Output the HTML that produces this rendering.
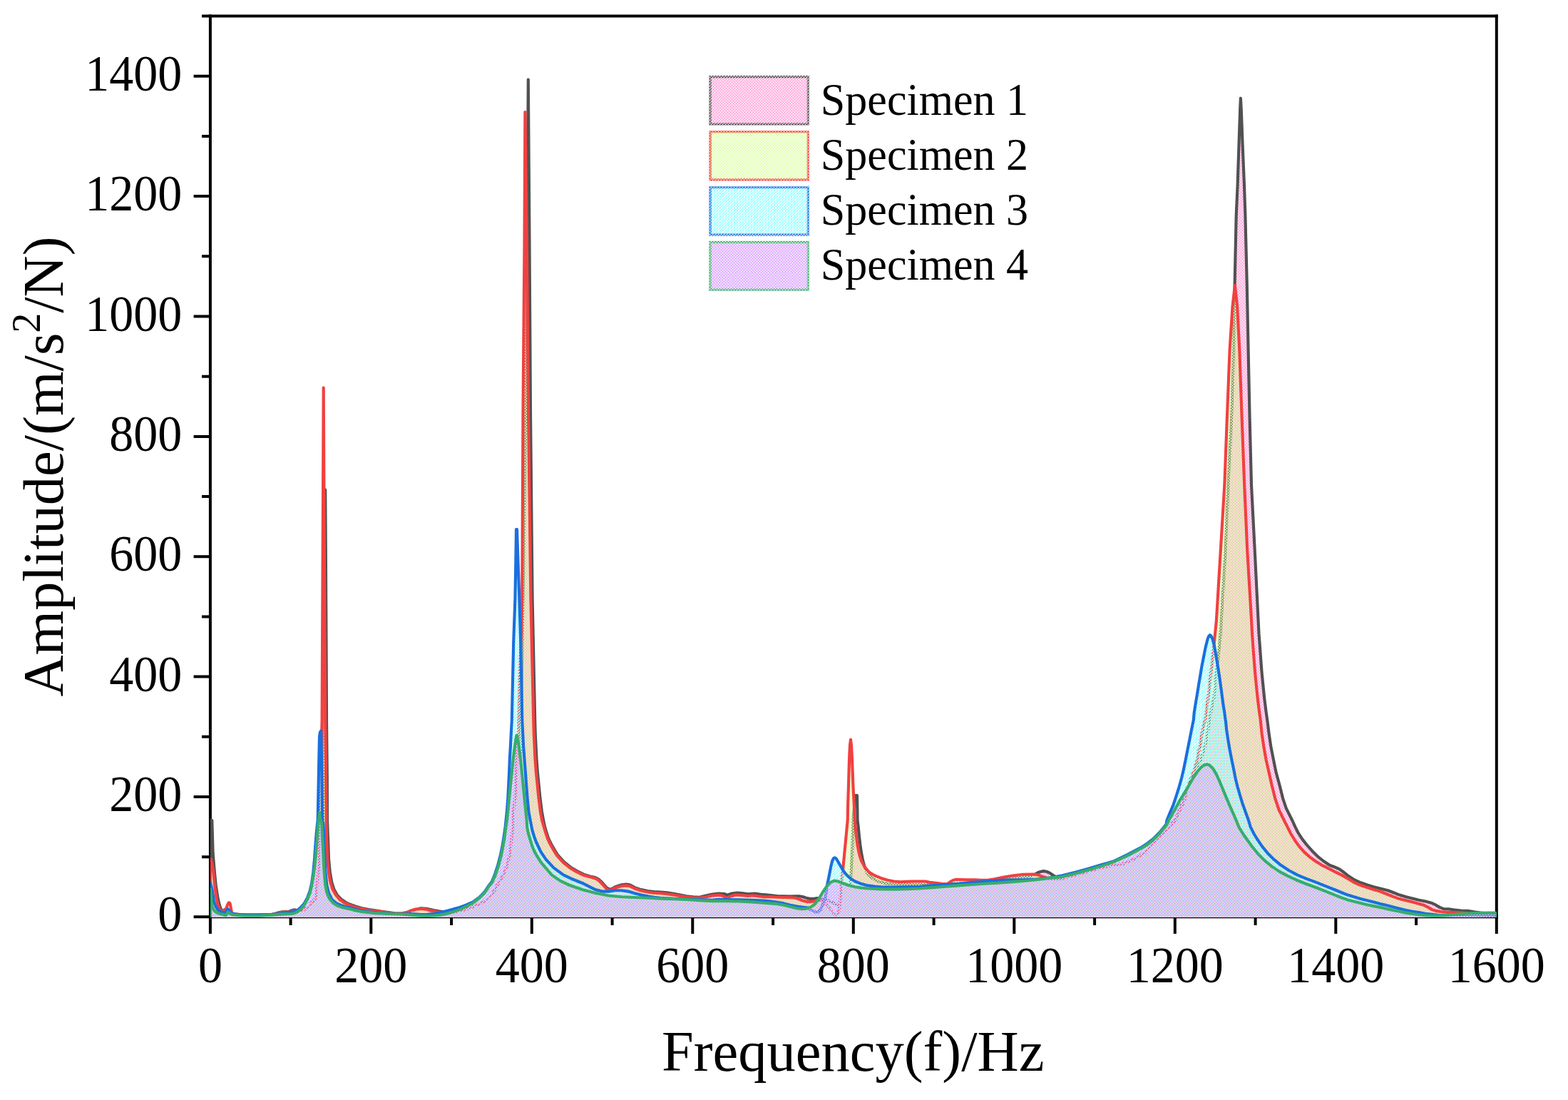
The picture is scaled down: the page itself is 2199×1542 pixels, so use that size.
<!DOCTYPE html>
<html lang="en"><head><meta charset="utf-8"><title>Frequency response of specimens</title>
<style>html,body{margin:0;padding:0;background:#fff;}body{width:2199px;height:1542px;overflow:hidden;}svg{display:block;}text{font-family:"Liberation Serif","Times New Roman",serif;fill:#000;}</style>
</head><body>
<svg width="2199" height="1542" viewBox="0 0 2199 1542">
<defs>
<pattern id="f-gray" width="4" height="4" patternUnits="userSpaceOnUse"><path d="M0 0h1v1h-1zM2 0h1v1h-1zM1 1h1v1h-1zM3 1h1v1h-1zM0 2h1v1h-1zM2 2h1v1h-1zM1 3h1v1h-1zM3 3h1v1h-1zM0 1h1v1h-1zM2 3h1v1h-1z" fill="#FFA8DC" shape-rendering="crispEdges"/></pattern>
<pattern id="s-gray" width="4" height="4" patternUnits="userSpaceOnUse"><path d="M0 0h1v1h-1zM2 0h1v1h-1zM1 1h1v1h-1zM3 1h1v1h-1zM0 2h1v1h-1zM2 2h1v1h-1zM1 3h1v1h-1zM3 3h1v1h-1zM1 0h1v1h-1zM3 2h1v1h-1z" fill="#515151" shape-rendering="crispEdges"/></pattern>
<pattern id="f-red" width="4" height="4" patternUnits="userSpaceOnUse"><path d="M1 0h1v1h-1zM3 0h1v1h-1zM0 1h1v1h-1zM2 1h1v1h-1zM1 2h1v1h-1zM3 2h1v1h-1zM0 3h1v1h-1zM2 3h1v1h-1zM0 0h1v1h-1zM2 2h1v1h-1z" fill="#E0FFB0" shape-rendering="crispEdges"/></pattern>
<pattern id="s-red" width="4" height="4" patternUnits="userSpaceOnUse"><path d="M0 0h1v1h-1zM2 0h1v1h-1zM1 1h1v1h-1zM3 1h1v1h-1zM0 2h1v1h-1zM2 2h1v1h-1zM1 3h1v1h-1zM3 3h1v1h-1zM1 0h1v1h-1zM3 2h1v1h-1z" fill="#F14040" shape-rendering="crispEdges"/></pattern>
<pattern id="f-blue" width="4" height="4" patternUnits="userSpaceOnUse"><path d="M0 0h1v1h-1zM1 0h1v1h-1zM2 0h1v1h-1zM0 1h1v1h-1zM3 1h1v1h-1zM1 2h1v1h-1zM2 2h1v1h-1zM3 2h1v1h-1zM1 3h1v1h-1zM2 3h1v1h-1z" fill="#A8FFFF" shape-rendering="crispEdges"/></pattern>
<pattern id="s-blue" width="4" height="4" patternUnits="userSpaceOnUse"><path d="M0 0h1v1h-1zM2 0h1v1h-1zM1 1h1v1h-1zM3 1h1v1h-1zM0 2h1v1h-1zM2 2h1v1h-1zM1 3h1v1h-1zM3 3h1v1h-1zM1 0h1v1h-1zM3 2h1v1h-1z" fill="#1A6FDF" shape-rendering="crispEdges"/></pattern>
<pattern id="f-green" width="4" height="4" patternUnits="userSpaceOnUse"><path d="M0 0h1v1h-1zM2 0h1v1h-1zM1 1h1v1h-1zM3 1h1v1h-1zM0 2h1v1h-1zM2 2h1v1h-1zM1 3h1v1h-1zM3 3h1v1h-1zM1 0h1v1h-1zM3 2h1v1h-1z" fill="#DCA8FF" shape-rendering="crispEdges"/></pattern>
<pattern id="s-green" width="4" height="4" patternUnits="userSpaceOnUse"><path d="M0 0h1v1h-1zM2 0h1v1h-1zM1 1h1v1h-1zM3 1h1v1h-1zM0 2h1v1h-1zM2 2h1v1h-1zM1 3h1v1h-1zM3 3h1v1h-1zM1 0h1v1h-1zM3 2h1v1h-1z" fill="#37AD6B" shape-rendering="crispEdges"/></pattern>
<clipPath id="plot"><rect x="295.00" y="22.60" width="1803.90" height="1263.30"/></clipPath>
</defs>
<rect width="2199" height="1542" fill="#fff"/>
<g stroke="#000" stroke-width="4" fill="none" stroke-linecap="butt">
<path d="M292.9 22.6 H2100.8"/>
<path d="M292.9 1285.3 H2100.8"/>
<path d="M294.9 20.6 V1287.3"/>
<path d="M2098.8 20.6 V1287.3"/>
<path d="M294.9 1285.3 v23.7 M407.6 1285.3 v11.7 M520.3 1285.3 v23.7 M633.1 1285.3 v11.7 M745.8 1285.3 v23.7 M858.6 1285.3 v11.7 M971.3 1285.3 v23.7 M1084.1 1285.3 v11.7 M1196.8 1285.3 v23.7 M1309.6 1285.3 v11.7 M1422.3 1285.3 v23.7 M1535.1 1285.3 v11.7 M1647.8 1285.3 v23.7 M1760.6 1285.3 v11.7 M1873.3 1285.3 v23.7 M1986.1 1285.3 v11.7 M2098.8 1285.3 v23.7 M294.9 1285.3 h-23.3 M294.9 1201.2 h-11.9 M294.9 1117.0 h-23.3 M294.9 1032.8 h-11.9 M294.9 948.6 h-23.3 M294.9 864.4 h-11.9 M294.9 780.2 h-23.3 M294.9 696.1 h-11.9 M294.9 611.9 h-23.3 M294.9 527.7 h-11.9 M294.9 443.5 h-23.3 M294.9 359.3 h-11.9 M294.9 275.1 h-23.3 M294.9 191.0 h-11.9 M294.9 106.8 h-23.3 M294.9 22.6 h-11.9"/>
</g>
<g clip-path="url(#plot)">
<path d="M294.9 1289.3 L295.0 1149.5 L297.3 1150.0 L298.6 1195.5 L300.9 1222.8 L302.7 1241.0 L305.5 1259.1 L307.7 1268.2 L309.1 1272.8 L311.8 1277.3 L317.3 1279.1 L326.4 1281.0 L335.5 1281.9 L344.6 1282.3 L362.8 1282.3 L381.0 1281.9 L385.5 1281.0 L390.0 1279.6 L394.6 1278.4 L403.7 1278.1 L408.2 1276.6 L412.8 1275.3 L416.4 1276.0 L421.9 1276.0 L431.0 1272.8 L440.1 1266.4 L446.4 1259.1 L450.1 1241.0 L452.8 1195.5 L454.0 1100.0 L455.0 900.0 L455.7 770.0 L456.2 686.5 L456.8 770.0 L457.5 900.0 L458.0 1010.0 L458.8 1090.0 L459.0 1150.0 L460.1 1177.3 L461.0 1204.6 L462.8 1222.8 L465.1 1236.4 L468.3 1246.4 L472.8 1254.6 L478.3 1260.5 L484.6 1264.8 L490.0 1267.5 L499.1 1270.8 L508.2 1273.2 L517.3 1275.1 L526.4 1276.4 L535.5 1277.8 L544.6 1279.1 L553.7 1280.2 L562.8 1280.5 L571.9 1279.1 L581.0 1276.0 L590.0 1273.2 L599.1 1273.9 L608.2 1276.0 L615.5 1277.3 L621.9 1278.2 L631.0 1278.7 L644.6 1277.3 L656.4 1274.6 L662.8 1272.3 L671.9 1269.1 L681.0 1264.8 L700.0 1262.0 L712.0 1240.0 L720.0 1200.0 L726.0 1150.0 L729.0 1090.0 L730.5 1030.0 L733.5 840.0 L737.2 580.0 L739.3 340.0 L740.8 111.5 L742.5 340.0 L744.0 580.0 L746.6 840.0 L750.2 1010.0 L750.7 1028.2 L751.6 1046.4 L752.5 1064.6 L753.9 1082.8 L755.7 1101.0 L757.5 1119.1 L759.8 1137.3 L762.1 1150.0 L763.9 1158.4 L766.6 1167.5 L769.3 1175.6 L772.9 1182.9 L777.5 1191.1 L782.0 1198.4 L791.1 1208.4 L800.2 1215.7 L809.3 1221.1 L818.4 1225.7 L827.5 1228.4 L834.6 1230.0 L839.2 1232.3 L844.6 1237.3 L850.1 1243.7 L854.6 1246.9 L859.2 1245.5 L862.8 1243.2 L871.9 1240.2 L878.3 1239.6 L883.7 1240.5 L890.0 1244.1 L899.1 1247.1 L908.2 1249.1 L917.3 1250.0 L926.4 1250.5 L935.5 1251.4 L944.6 1252.8 L953.7 1254.6 L962.8 1256.4 L971.9 1257.3 L981.0 1257.8 L990.0 1255.5 L999.1 1253.5 L1008.2 1252.5 L1015.5 1253.0 L1020.1 1254.8 L1026.4 1252.5 L1033.7 1251.6 L1040.1 1252.0 L1049.2 1253.4 L1058.3 1252.5 L1067.4 1253.7 L1076.4 1254.6 L1090.0 1256.0 L1099.1 1256.4 L1108.2 1256.6 L1115.5 1256.4 L1120.9 1256.2 L1126.4 1257.3 L1131.8 1259.1 L1137.3 1260.1 L1142.8 1259.6 L1146.4 1259.1 L1153.7 1260.5 L1162.8 1262.8 L1170.0 1266.4 L1173.7 1267.8 L1181.0 1266.4 L1186.4 1259.1 L1190.0 1250.0 L1191.9 1241.0 L1192.8 1236.4 L1193.7 1222.8 L1194.6 1204.6 L1195.5 1186.4 L1196.0 1168.2 L1196.4 1150.0 L1198.2 1130.0 L1199.6 1115.0 L1202.0 1115.0 L1202.3 1130.0 L1202.6 1150.0 L1203.7 1159.1 L1205.0 1172.7 L1206.6 1186.4 L1208.2 1196.4 L1210.1 1206.4 L1212.8 1215.5 L1215.5 1222.8 L1221.9 1230.0 L1231.0 1235.5 L1244.6 1238.7 L1262.8 1240.0 L1290.0 1239.6 L1317.3 1240.0 L1344.6 1238.2 L1362.8 1237.3 L1399.1 1233.7 L1426.4 1230.5 L1444.6 1228.2 L1451.9 1225.5 L1455.5 1223.2 L1460.1 1221.7 L1463.7 1221.1 L1468.3 1222.0 L1472.8 1224.1 L1477.4 1227.3 L1481.0 1229.6 L1485.5 1231.9 L1490.0 1231.9 L1508.2 1226.9 L1526.4 1221.9 L1544.6 1216.8 L1562.8 1213.5 L1574.6 1211.7 L1581.0 1209.3 L1590.0 1205.7 L1597.3 1201.4 L1605.5 1196.6 L1611.9 1189.6 L1620.1 1180.5 L1626.4 1175.0 L1632.8 1168.6 L1640.1 1160.5 L1648.0 1150.0 L1665.0 1110.0 L1677.3 1079.0 L1683.7 1066.0 L1690.0 1046.0 L1693.5 1028.0 L1695.8 1010.0 L1699.1 992.8 L1702.3 979.1 L1703.7 965.5 L1705.0 951.9 L1706.4 938.2 L1708.2 924.6 L1709.6 910.9 L1710.9 897.3 L1711.9 883.6 L1712.8 870.0 L1713.2 862.0 L1718.6 771.0 L1722.4 680.0 L1727.3 582.0 L1730.1 491.0 L1731.6 400.0 L1733.7 302.0 L1735.6 260.0 L1737.6 200.0 L1739.2 152.0 L1739.9 137.7 L1740.7 152.0 L1742.5 200.0 L1745.0 260.0 L1746.4 302.0 L1748.8 400.0 L1750.6 491.0 L1752.5 582.0 L1755.0 680.0 L1759.7 771.0 L1764.6 870.0 L1765.5 888.2 L1766.9 906.4 L1768.2 924.6 L1769.6 942.8 L1771.4 961.0 L1773.2 979.1 L1775.5 997.3 L1777.3 1010.0 L1779.6 1028.2 L1782.3 1046.4 L1785.9 1064.6 L1789.6 1082.8 L1794.6 1101.0 L1799.1 1119.1 L1803.7 1132.8 L1808.2 1141.9 L1812.3 1150.0 L1816.4 1159.1 L1821.0 1168.2 L1826.4 1176.4 L1832.8 1184.6 L1840.1 1192.7 L1848.3 1200.9 L1856.4 1207.3 L1864.6 1212.8 L1871.9 1215.5 L1877.4 1217.8 L1882.8 1221.4 L1890.0 1227.1 L1899.1 1233.2 L1908.2 1237.3 L1917.3 1240.5 L1926.4 1243.2 L1935.5 1245.5 L1946.4 1248.2 L1953.7 1251.0 L1962.8 1254.6 L1971.9 1257.3 L1981.0 1259.6 L1990.0 1261.7 L1999.1 1263.5 L2008.2 1266.0 L2013.7 1268.7 L2019.1 1271.9 L2024.6 1274.1 L2031.9 1274.4 L2040.1 1275.5 L2049.2 1276.6 L2058.3 1276.9 L2067.4 1278.4 L2076.4 1279.6 L2090.0 1281.0 L2098.8 1281.5 L2098.9 1281.5 L2098.9 1289.3Z" fill="url(#f-gray)" stroke="none"/>
<path d="M294.9 1289.3 L295.0 1149.5 L297.3 1150.0 L298.6 1195.5 L300.9 1222.8 L302.7 1241.0 L305.5 1259.1 L307.7 1268.2 L309.1 1272.8 L311.8 1277.3 L317.3 1279.1 L326.4 1281.0 L335.5 1281.9 L344.6 1282.3 L362.8 1282.3 L381.0 1281.9 L385.5 1281.0 L390.0 1279.6 L394.6 1278.4 L403.7 1278.1 L408.2 1276.6 L412.8 1275.3 L416.4 1276.0 L421.9 1276.0 L431.0 1272.8 L440.1 1266.4 L446.4 1259.1 L450.1 1241.0 L452.8 1195.5 L454.0 1100.0 L455.0 900.0 L455.7 770.0 L456.2 686.5 L456.8 770.0 L457.5 900.0 L458.0 1010.0 L458.8 1090.0 L459.0 1150.0 L460.1 1177.3 L461.0 1204.6 L462.8 1222.8 L465.1 1236.4 L468.3 1246.4 L472.8 1254.6 L478.3 1260.5 L484.6 1264.8 L490.0 1267.5 L499.1 1270.8 L508.2 1273.2 L517.3 1275.1 L526.4 1276.4 L535.5 1277.8 L544.6 1279.1 L553.7 1280.2 L562.8 1280.5 L571.9 1279.1 L581.0 1276.0 L590.0 1273.2 L599.1 1273.9 L608.2 1276.0 L615.5 1277.3 L621.9 1278.2 L631.0 1278.7 L644.6 1277.3 L656.4 1274.6 L662.8 1272.3 L671.9 1269.1 L681.0 1264.8 L700.0 1262.0 L712.0 1240.0 L720.0 1200.0 L726.0 1150.0 L729.0 1090.0 L730.5 1030.0 L733.5 840.0 L737.2 580.0 L739.3 340.0 L740.8 111.5 L742.5 340.0 L744.0 580.0 L746.6 840.0 L750.2 1010.0 L750.7 1028.2 L751.6 1046.4 L752.5 1064.6 L753.9 1082.8 L755.7 1101.0 L757.5 1119.1 L759.8 1137.3 L762.1 1150.0 L763.9 1158.4 L766.6 1167.5 L769.3 1175.6 L772.9 1182.9 L777.5 1191.1 L782.0 1198.4 L791.1 1208.4 L800.2 1215.7 L809.3 1221.1 L818.4 1225.7 L827.5 1228.4 L834.6 1230.0 L839.2 1232.3 L844.6 1237.3 L850.1 1243.7 L854.6 1246.9 L859.2 1245.5 L862.8 1243.2 L871.9 1240.2 L878.3 1239.6 L883.7 1240.5 L890.0 1244.1 L899.1 1247.1 L908.2 1249.1 L917.3 1250.0 L926.4 1250.5 L935.5 1251.4 L944.6 1252.8 L953.7 1254.6 L962.8 1256.4 L971.9 1257.3 L981.0 1257.8 L990.0 1255.5 L999.1 1253.5 L1008.2 1252.5 L1015.5 1253.0 L1020.1 1254.8 L1026.4 1252.5 L1033.7 1251.6 L1040.1 1252.0 L1049.2 1253.4 L1058.3 1252.5 L1067.4 1253.7 L1076.4 1254.6 L1090.0 1256.0 L1099.1 1256.4 L1108.2 1256.6 L1115.5 1256.4 L1120.9 1256.2 L1126.4 1257.3 L1131.8 1259.1 L1137.3 1260.1 L1142.8 1259.6 L1146.4 1259.1 L1153.7 1260.5 L1162.8 1262.8 L1170.0 1266.4 L1173.7 1267.8 L1181.0 1266.4 L1186.4 1259.1 L1190.0 1250.0 L1191.9 1241.0 L1192.8 1236.4 L1193.7 1222.8 L1194.6 1204.6 L1195.5 1186.4 L1196.0 1168.2 L1196.4 1150.0 L1198.2 1130.0 L1199.6 1115.0 L1202.0 1115.0 L1202.3 1130.0 L1202.6 1150.0 L1203.7 1159.1 L1205.0 1172.7 L1206.6 1186.4 L1208.2 1196.4 L1210.1 1206.4 L1212.8 1215.5 L1215.5 1222.8 L1221.9 1230.0 L1231.0 1235.5 L1244.6 1238.7 L1262.8 1240.0 L1290.0 1239.6 L1317.3 1240.0 L1344.6 1238.2 L1362.8 1237.3 L1399.1 1233.7 L1426.4 1230.5 L1444.6 1228.2 L1451.9 1225.5 L1455.5 1223.2 L1460.1 1221.7 L1463.7 1221.1 L1468.3 1222.0 L1472.8 1224.1 L1477.4 1227.3 L1481.0 1229.6 L1485.5 1231.9 L1490.0 1231.9 L1508.2 1226.9 L1526.4 1221.9 L1544.6 1216.8 L1562.8 1213.5 L1574.6 1211.7 L1581.0 1209.3 L1590.0 1205.7 L1597.3 1201.4 L1605.5 1196.6 L1611.9 1189.6 L1620.1 1180.5 L1626.4 1175.0 L1632.8 1168.6 L1640.1 1160.5 L1648.0 1150.0 L1665.0 1110.0 L1677.3 1079.0 L1683.7 1066.0 L1690.0 1046.0 L1693.5 1028.0 L1695.8 1010.0 L1699.1 992.8 L1702.3 979.1 L1703.7 965.5 L1705.0 951.9 L1706.4 938.2 L1708.2 924.6 L1709.6 910.9 L1710.9 897.3 L1711.9 883.6 L1712.8 870.0 L1713.2 862.0 L1718.6 771.0 L1722.4 680.0 L1727.3 582.0 L1730.1 491.0 L1731.6 400.0 L1733.7 302.0 L1735.6 260.0 L1737.6 200.0 L1739.2 152.0 L1739.9 137.7 L1740.7 152.0 L1742.5 200.0 L1745.0 260.0 L1746.4 302.0 L1748.8 400.0 L1750.6 491.0 L1752.5 582.0 L1755.0 680.0 L1759.7 771.0 L1764.6 870.0 L1765.5 888.2 L1766.9 906.4 L1768.2 924.6 L1769.6 942.8 L1771.4 961.0 L1773.2 979.1 L1775.5 997.3 L1777.3 1010.0 L1779.6 1028.2 L1782.3 1046.4 L1785.9 1064.6 L1789.6 1082.8 L1794.6 1101.0 L1799.1 1119.1 L1803.7 1132.8 L1808.2 1141.9 L1812.3 1150.0 L1816.4 1159.1 L1821.0 1168.2 L1826.4 1176.4 L1832.8 1184.6 L1840.1 1192.7 L1848.3 1200.9 L1856.4 1207.3 L1864.6 1212.8 L1871.9 1215.5 L1877.4 1217.8 L1882.8 1221.4 L1890.0 1227.1 L1899.1 1233.2 L1908.2 1237.3 L1917.3 1240.5 L1926.4 1243.2 L1935.5 1245.5 L1946.4 1248.2 L1953.7 1251.0 L1962.8 1254.6 L1971.9 1257.3 L1981.0 1259.6 L1990.0 1261.7 L1999.1 1263.5 L2008.2 1266.0 L2013.7 1268.7 L2019.1 1271.9 L2024.6 1274.1 L2031.9 1274.4 L2040.1 1275.5 L2049.2 1276.6 L2058.3 1276.9 L2067.4 1278.4 L2076.4 1279.6 L2090.0 1281.0 L2098.8 1281.5 L2098.9 1281.5 L2098.9 1289.3" fill="none" stroke="#515151" stroke-width="4.15" stroke-linejoin="round" stroke-linecap="butt"/>
<path d="M294.9 1289.3 L295.0 1204.0 L297.1 1209.1 L299.4 1222.8 L301.2 1241.0 L303.5 1259.1 L305.7 1268.2 L308.2 1275.1 L310.9 1276.9 L314.6 1275.5 L317.3 1273.7 L319.1 1268.2 L320.5 1265.7 L321.7 1265.3 L322.7 1266.9 L323.8 1272.8 L324.7 1278.2 L326.4 1280.8 L330.9 1281.7 L335.5 1282.1 L344.6 1283.0 L353.7 1283.0 L360.9 1282.3 L367.3 1282.6 L381.0 1282.3 L390.0 1280.5 L394.6 1279.1 L403.7 1278.4 L408.2 1277.3 L412.8 1276.6 L417.3 1276.9 L421.9 1276.4 L428.2 1274.6 L433.7 1270.1 L438.2 1263.7 L441.9 1261.9 L443.7 1250.0 L445.5 1231.9 L446.9 1213.7 L447.8 1195.5 L448.4 1177.3 L448.7 1159.1 L449.0 1130.0 L450.2 1070.0 L451.6 1010.0 L452.7 770.0 L453.7 543.5 L454.8 770.0 L456.2 1010.0 L457.2 1090.0 L457.9 1150.0 L458.3 1177.3 L459.2 1204.6 L461.0 1222.8 L463.3 1236.4 L466.4 1246.4 L471.0 1254.6 L476.4 1261.0 L482.8 1265.5 L490.0 1268.7 L499.1 1271.9 L508.2 1274.1 L517.3 1276.0 L526.4 1276.9 L535.5 1278.2 L544.6 1279.6 L553.7 1280.5 L562.8 1280.5 L570.0 1279.1 L576.4 1276.4 L582.8 1274.6 L590.0 1273.9 L597.3 1274.6 L603.7 1276.4 L610.1 1277.8 L617.3 1278.7 L626.4 1279.1 L640.1 1278.2 L656.4 1273.7 L662.8 1271.0 L671.9 1267.3 L679.2 1263.7 L685.5 1259.1 L690.9 1252.8 L697.3 1241.0 L705.5 1227.3 L710.9 1213.7 L715.5 1195.5 L717.3 1177.3 L719.1 1159.1 L719.6 1150.0 L720.0 1137.3 L722.3 1119.1 L723.2 1101.0 L724.1 1082.8 L724.6 1064.6 L725.5 1046.4 L726.9 1028.2 L727.3 1010.0 L732.2 840.0 L733.5 580.0 L735.5 340.0 L736.4 157.0 L738.8 340.0 L741.0 580.0 L744.4 840.0 L748.2 1010.0 L748.7 1028.2 L749.6 1046.4 L750.5 1064.6 L751.9 1082.8 L753.7 1101.0 L755.5 1119.1 L757.8 1137.3 L760.1 1150.0 L762.8 1159.1 L765.5 1168.2 L768.2 1176.4 L771.9 1183.7 L776.4 1191.8 L781.0 1199.1 L790.0 1209.1 L799.1 1216.4 L808.2 1221.9 L817.3 1226.4 L826.4 1229.1 L833.7 1230.9 L839.2 1233.7 L844.6 1239.1 L850.1 1245.5 L853.7 1248.2 L858.3 1246.9 L862.8 1244.6 L871.9 1241.9 L878.3 1241.4 L883.7 1242.3 L890.0 1245.5 L899.1 1248.4 L908.2 1250.5 L917.3 1251.7 L926.4 1252.3 L935.5 1253.2 L944.6 1254.4 L953.7 1256.0 L962.8 1257.3 L971.9 1258.2 L981.0 1258.7 L990.0 1257.3 L999.1 1255.5 L1008.2 1254.6 L1012.8 1255.5 L1019.1 1258.7 L1024.6 1256.4 L1031.0 1254.4 L1040.1 1255.0 L1049.2 1256.0 L1055.5 1255.3 L1062.8 1256.2 L1071.9 1257.1 L1081.0 1257.3 L1090.0 1257.8 L1099.1 1258.0 L1108.2 1258.2 L1115.5 1258.7 L1120.9 1260.5 L1126.4 1262.8 L1131.8 1264.1 L1137.3 1264.1 L1142.8 1263.2 L1146.4 1261.9 L1153.7 1261.9 L1159.1 1268.2 L1164.6 1274.6 L1170.0 1281.9 L1173.7 1282.8 L1176.4 1277.3 L1177.8 1268.2 L1178.7 1254.6 L1188.7 1150.0 L1189.1 1128.2 L1190.0 1101.0 L1191.0 1064.6 L1192.0 1044.6 L1193.0 1036.8 L1194.0 1044.6 L1195.0 1064.6 L1196.4 1101.0 L1197.8 1128.2 L1198.7 1150.0 L1199.6 1159.1 L1201.0 1172.7 L1202.8 1186.4 L1205.1 1197.3 L1208.2 1207.3 L1212.8 1215.5 L1219.1 1222.8 L1226.4 1227.3 L1235.5 1230.9 L1244.6 1233.7 L1253.7 1235.5 L1262.8 1236.2 L1271.9 1235.9 L1281.0 1235.5 L1290.0 1235.5 L1297.3 1235.5 L1303.6 1236.9 L1312.7 1237.8 L1320.0 1238.9 L1326.4 1239.6 L1330.0 1238.2 L1333.7 1235.5 L1337.3 1233.7 L1340.9 1232.9 L1353.7 1233.2 L1367.3 1233.2 L1376.4 1233.9 L1385.5 1233.7 L1394.6 1232.3 L1408.2 1229.6 L1421.9 1227.3 L1435.5 1225.7 L1449.2 1225.5 L1455.5 1226.4 L1461.0 1228.4 L1467.4 1230.5 L1471.9 1231.7 L1481.0 1232.3 L1490.0 1231.4 L1508.2 1226.4 L1526.4 1221.4 L1544.6 1216.2 L1562.8 1212.8 L1574.6 1210.8 L1581.0 1208.2 L1590.0 1204.6 L1597.3 1200.0 L1605.5 1195.5 L1611.9 1188.2 L1620.1 1179.1 L1626.4 1173.6 L1632.8 1167.3 L1640.1 1159.1 L1648.2 1150.0 L1651.8 1141.9 L1657.3 1131.0 L1661.9 1119.1 L1666.4 1101.0 L1670.0 1091.9 L1673.7 1082.8 L1677.3 1071.8 L1680.0 1060.0 L1682.8 1046.4 L1685.0 1032.7 L1687.3 1019.1 L1690.0 1010.0 L1690.0 1010.0 L1692.3 992.8 L1694.1 979.1 L1695.9 965.5 L1697.3 951.9 L1698.7 938.2 L1700.5 924.6 L1701.8 910.9 L1703.2 897.3 L1704.1 888.2 L1705.0 879.1 L1705.9 870.0 L1717.3 680.0 L1721.0 582.0 L1724.6 491.0 L1728.5 430.0 L1731.9 400.0 L1735.2 430.0 L1738.3 491.0 L1741.5 582.0 L1745.2 680.0 L1749.2 771.0 L1755.1 870.0 L1756.0 888.2 L1757.3 906.4 L1758.7 924.6 L1760.1 942.8 L1761.9 961.0 L1763.7 979.1 L1766.0 997.3 L1767.8 1010.0 L1769.6 1028.2 L1772.3 1046.4 L1775.5 1064.6 L1779.6 1082.8 L1783.7 1101.0 L1788.2 1119.1 L1793.7 1135.5 L1800.9 1150.0 L1805.5 1159.1 L1810.1 1168.2 L1815.5 1177.3 L1821.9 1186.4 L1829.2 1194.6 L1837.3 1201.8 L1846.4 1208.2 L1855.5 1213.7 L1864.6 1218.2 L1873.7 1222.8 L1881.0 1226.4 L1890.0 1231.4 L1899.1 1237.1 L1908.2 1241.0 L1917.3 1244.1 L1926.4 1246.9 L1935.5 1249.6 L1944.6 1253.2 L1953.7 1256.9 L1962.8 1260.1 L1971.9 1262.3 L1981.0 1264.6 L1990.0 1266.9 L1997.3 1269.1 L2002.8 1271.9 L2008.2 1275.1 L2013.7 1276.9 L2021.9 1278.2 L2031.0 1279.0 L2040.1 1279.1 L2049.2 1279.3 L2058.3 1280.5 L2071.9 1283.0 L2090.0 1284.4 L2098.8 1284.8 L2098.9 1284.8 L2098.9 1289.3Z" fill="url(#f-red)" stroke="none"/>
<path d="M294.9 1289.3 L295.0 1204.0 L297.1 1209.1 L299.4 1222.8 L301.2 1241.0 L303.5 1259.1 L305.7 1268.2 L308.2 1275.1 L310.9 1276.9 L314.6 1275.5 L317.3 1273.7 L319.1 1268.2 L320.5 1265.7 L321.7 1265.3 L322.7 1266.9 L323.8 1272.8 L324.7 1278.2 L326.4 1280.8 L330.9 1281.7 L335.5 1282.1 L344.6 1283.0 L353.7 1283.0 L360.9 1282.3 L367.3 1282.6 L381.0 1282.3 L390.0 1280.5 L394.6 1279.1 L403.7 1278.4 L408.2 1277.3 L412.8 1276.6 L417.3 1276.9 L421.9 1276.4 L428.2 1274.6 L433.7 1270.1 L438.2 1263.7 L441.9 1261.9 L443.7 1250.0 L445.5 1231.9 L446.9 1213.7 L447.8 1195.5 L448.4 1177.3 L448.7 1159.1 L449.0 1130.0 L450.2 1070.0 L451.6 1010.0 L452.7 770.0 L453.7 543.5 L454.8 770.0 L456.2 1010.0 L457.2 1090.0 L457.9 1150.0 L458.3 1177.3 L459.2 1204.6 L461.0 1222.8 L463.3 1236.4 L466.4 1246.4 L471.0 1254.6 L476.4 1261.0 L482.8 1265.5 L490.0 1268.7 L499.1 1271.9 L508.2 1274.1 L517.3 1276.0 L526.4 1276.9 L535.5 1278.2 L544.6 1279.6 L553.7 1280.5 L562.8 1280.5 L570.0 1279.1 L576.4 1276.4 L582.8 1274.6 L590.0 1273.9 L597.3 1274.6 L603.7 1276.4 L610.1 1277.8 L617.3 1278.7 L626.4 1279.1 L640.1 1278.2 L656.4 1273.7 L662.8 1271.0 L671.9 1267.3 L679.2 1263.7 L685.5 1259.1 L690.9 1252.8 L697.3 1241.0 L705.5 1227.3 L710.9 1213.7 L715.5 1195.5 L717.3 1177.3 L719.1 1159.1 L719.6 1150.0 L720.0 1137.3 L722.3 1119.1 L723.2 1101.0 L724.1 1082.8 L724.6 1064.6 L725.5 1046.4 L726.9 1028.2 L727.3 1010.0 L732.2 840.0 L733.5 580.0 L735.5 340.0 L736.4 157.0 L738.8 340.0 L741.0 580.0 L744.4 840.0 L748.2 1010.0 L748.7 1028.2 L749.6 1046.4 L750.5 1064.6 L751.9 1082.8 L753.7 1101.0 L755.5 1119.1 L757.8 1137.3 L760.1 1150.0 L762.8 1159.1 L765.5 1168.2 L768.2 1176.4 L771.9 1183.7 L776.4 1191.8 L781.0 1199.1 L790.0 1209.1 L799.1 1216.4 L808.2 1221.9 L817.3 1226.4 L826.4 1229.1 L833.7 1230.9 L839.2 1233.7 L844.6 1239.1 L850.1 1245.5 L853.7 1248.2 L858.3 1246.9 L862.8 1244.6 L871.9 1241.9 L878.3 1241.4 L883.7 1242.3 L890.0 1245.5 L899.1 1248.4 L908.2 1250.5 L917.3 1251.7 L926.4 1252.3 L935.5 1253.2 L944.6 1254.4 L953.7 1256.0 L962.8 1257.3 L971.9 1258.2 L981.0 1258.7 L990.0 1257.3 L999.1 1255.5 L1008.2 1254.6 L1012.8 1255.5 L1019.1 1258.7 L1024.6 1256.4 L1031.0 1254.4 L1040.1 1255.0 L1049.2 1256.0 L1055.5 1255.3 L1062.8 1256.2 L1071.9 1257.1 L1081.0 1257.3 L1090.0 1257.8 L1099.1 1258.0 L1108.2 1258.2 L1115.5 1258.7 L1120.9 1260.5 L1126.4 1262.8 L1131.8 1264.1 L1137.3 1264.1 L1142.8 1263.2 L1146.4 1261.9 L1153.7 1261.9 L1159.1 1268.2 L1164.6 1274.6 L1170.0 1281.9 L1173.7 1282.8 L1176.4 1277.3 L1177.8 1268.2 L1178.7 1254.6 L1188.7 1150.0 L1189.1 1128.2 L1190.0 1101.0 L1191.0 1064.6 L1192.0 1044.6 L1193.0 1036.8 L1194.0 1044.6 L1195.0 1064.6 L1196.4 1101.0 L1197.8 1128.2 L1198.7 1150.0 L1199.6 1159.1 L1201.0 1172.7 L1202.8 1186.4 L1205.1 1197.3 L1208.2 1207.3 L1212.8 1215.5 L1219.1 1222.8 L1226.4 1227.3 L1235.5 1230.9 L1244.6 1233.7 L1253.7 1235.5 L1262.8 1236.2 L1271.9 1235.9 L1281.0 1235.5 L1290.0 1235.5 L1297.3 1235.5 L1303.6 1236.9 L1312.7 1237.8 L1320.0 1238.9 L1326.4 1239.6 L1330.0 1238.2 L1333.7 1235.5 L1337.3 1233.7 L1340.9 1232.9 L1353.7 1233.2 L1367.3 1233.2 L1376.4 1233.9 L1385.5 1233.7 L1394.6 1232.3 L1408.2 1229.6 L1421.9 1227.3 L1435.5 1225.7 L1449.2 1225.5 L1455.5 1226.4 L1461.0 1228.4 L1467.4 1230.5 L1471.9 1231.7 L1481.0 1232.3 L1490.0 1231.4 L1508.2 1226.4 L1526.4 1221.4 L1544.6 1216.2 L1562.8 1212.8 L1574.6 1210.8 L1581.0 1208.2 L1590.0 1204.6 L1597.3 1200.0 L1605.5 1195.5 L1611.9 1188.2 L1620.1 1179.1 L1626.4 1173.6 L1632.8 1167.3 L1640.1 1159.1 L1648.2 1150.0 L1651.8 1141.9 L1657.3 1131.0 L1661.9 1119.1 L1666.4 1101.0 L1670.0 1091.9 L1673.7 1082.8 L1677.3 1071.8 L1680.0 1060.0 L1682.8 1046.4 L1685.0 1032.7 L1687.3 1019.1 L1690.0 1010.0 L1690.0 1010.0 L1692.3 992.8 L1694.1 979.1 L1695.9 965.5 L1697.3 951.9 L1698.7 938.2 L1700.5 924.6 L1701.8 910.9 L1703.2 897.3 L1704.1 888.2 L1705.0 879.1 L1705.9 870.0 L1717.3 680.0 L1721.0 582.0 L1724.6 491.0 L1728.5 430.0 L1731.9 400.0 L1735.2 430.0 L1738.3 491.0 L1741.5 582.0 L1745.2 680.0 L1749.2 771.0 L1755.1 870.0 L1756.0 888.2 L1757.3 906.4 L1758.7 924.6 L1760.1 942.8 L1761.9 961.0 L1763.7 979.1 L1766.0 997.3 L1767.8 1010.0 L1769.6 1028.2 L1772.3 1046.4 L1775.5 1064.6 L1779.6 1082.8 L1783.7 1101.0 L1788.2 1119.1 L1793.7 1135.5 L1800.9 1150.0 L1805.5 1159.1 L1810.1 1168.2 L1815.5 1177.3 L1821.9 1186.4 L1829.2 1194.6 L1837.3 1201.8 L1846.4 1208.2 L1855.5 1213.7 L1864.6 1218.2 L1873.7 1222.8 L1881.0 1226.4 L1890.0 1231.4 L1899.1 1237.1 L1908.2 1241.0 L1917.3 1244.1 L1926.4 1246.9 L1935.5 1249.6 L1944.6 1253.2 L1953.7 1256.9 L1962.8 1260.1 L1971.9 1262.3 L1981.0 1264.6 L1990.0 1266.9 L1997.3 1269.1 L2002.8 1271.9 L2008.2 1275.1 L2013.7 1276.9 L2021.9 1278.2 L2031.0 1279.0 L2040.1 1279.1 L2049.2 1279.3 L2058.3 1280.5 L2071.9 1283.0 L2090.0 1284.4 L2098.8 1284.8 L2098.9 1284.8 L2098.9 1289.3" fill="none" stroke="#F14040" stroke-width="4.15" stroke-linejoin="round" stroke-linecap="butt"/>
<path d="M294.9 1289.3 L295.0 1237.0 L297.3 1246.4 L298.6 1254.6 L300.0 1263.7 L302.3 1270.1 L305.0 1274.6 L308.2 1277.3 L312.7 1279.1 L316.4 1279.1 L318.2 1275.5 L319.1 1274.1 L320.5 1275.1 L321.8 1277.3 L324.6 1280.1 L330.9 1281.9 L344.6 1283.0 L362.8 1283.0 L381.0 1282.1 L390.0 1281.0 L399.1 1279.6 L408.2 1278.4 L412.8 1277.8 L417.3 1276.0 L421.9 1271.9 L426.4 1266.9 L431.0 1258.7 L434.6 1249.1 L437.3 1237.3 L439.3 1222.8 L441.0 1204.6 L442.3 1186.4 L443.7 1168.2 L445.1 1154.5 L445.7 1150.0 L446.6 1101.0 L447.3 1064.6 L448.0 1032.7 L448.7 1027.3 L450.0 1024.7 L450.4 1032.7 L451.0 1064.6 L451.6 1101.0 L452.1 1150.0 L453.3 1154.5 L454.2 1168.2 L455.1 1195.5 L456.4 1222.8 L458.3 1241.0 L461.0 1251.9 L465.5 1261.0 L471.9 1266.4 L481.0 1270.1 L490.0 1272.3 L499.1 1275.1 L508.2 1277.1 L517.3 1278.4 L535.5 1280.1 L553.7 1281.0 L571.9 1281.0 L581.0 1281.4 L590.0 1282.1 L599.1 1281.9 L608.2 1281.0 L617.3 1279.1 L626.4 1276.9 L635.5 1274.6 L644.6 1271.9 L653.7 1268.7 L662.8 1264.6 L671.9 1258.2 L679.2 1250.8 L685.5 1241.4 L690.0 1235.5 L694.1 1225.5 L698.2 1212.8 L701.8 1199.1 L704.6 1185.5 L706.8 1171.8 L708.6 1159.1 L709.6 1150.0 L710.9 1137.3 L712.3 1119.1 L713.2 1101.0 L714.1 1082.8 L714.8 1064.6 L715.9 1046.4 L716.8 1028.2 L717.8 1010.0 L720.2 900.0 L722.4 840.0 L723.3 790.0 L724.0 742.0 L725.0 742.0 L726.6 790.0 L728.4 840.0 L730.2 900.0 L732.3 1010.0 L733.2 1028.2 L734.1 1046.4 L735.5 1064.6 L736.9 1082.8 L738.2 1101.0 L739.6 1119.1 L741.4 1137.3 L743.7 1150.0 L746.4 1163.6 L749.1 1172.7 L751.8 1180.0 L758.2 1193.7 L765.5 1204.6 L776.4 1216.4 L790.0 1226.4 L803.7 1232.8 L817.3 1238.2 L826.4 1242.8 L835.5 1247.3 L844.6 1249.6 L853.7 1249.6 L862.8 1248.2 L871.9 1248.2 L881.0 1249.6 L890.0 1252.3 L899.1 1254.6 L908.2 1256.4 L917.3 1257.8 L926.4 1258.7 L944.6 1259.9 L962.8 1260.5 L981.0 1261.1 L999.1 1261.7 L1008.2 1260.8 L1017.3 1261.0 L1035.5 1261.4 L1053.7 1261.9 L1071.9 1262.6 L1081.0 1263.5 L1090.0 1264.8 L1099.1 1266.4 L1108.2 1268.7 L1117.3 1270.5 L1126.4 1271.9 L1132.7 1272.6 L1137.3 1275.5 L1142.8 1278.2 L1146.4 1278.7 L1150.9 1274.6 L1155.5 1263.7 L1158.2 1254.6 L1160.0 1241.0 L1161.9 1231.9 L1163.7 1222.8 L1165.5 1213.7 L1167.3 1206.4 L1169.1 1203.2 L1170.9 1202.3 L1172.8 1203.7 L1175.5 1208.2 L1179.1 1214.6 L1182.8 1220.9 L1186.4 1225.5 L1190.0 1229.1 L1194.6 1232.8 L1199.1 1235.5 L1208.2 1239.1 L1217.3 1241.4 L1226.4 1242.6 L1235.5 1243.2 L1253.7 1243.5 L1271.9 1243.2 L1290.0 1242.8 L1308.2 1241.4 L1326.4 1240.0 L1344.6 1238.7 L1362.8 1236.9 L1381.0 1235.5 L1399.1 1234.1 L1417.3 1233.5 L1435.5 1233.2 L1453.7 1232.6 L1471.9 1230.5 L1490.0 1227.3 L1508.2 1222.7 L1526.4 1217.7 L1544.6 1212.2 L1553.7 1209.8 L1562.8 1206.9 L1581.0 1198.2 L1599.1 1188.7 L1608.2 1182.9 L1617.3 1175.9 L1626.4 1166.8 L1635.5 1155.5 L1636.4 1150.0 L1640.9 1139.1 L1645.5 1128.2 L1650.0 1114.6 L1653.7 1102.8 L1657.3 1090.0 L1660.0 1078.2 L1662.8 1064.6 L1665.5 1050.9 L1668.2 1037.3 L1670.9 1023.6 L1673.7 1010.0 L1673.8 1010.0 L1674.7 999.1 L1676.4 988.2 L1678.7 974.6 L1680.9 961.0 L1683.2 947.3 L1685.5 933.7 L1688.2 920.0 L1690.9 906.4 L1693.7 895.5 L1695.5 891.4 L1696.8 890.2 L1698.4 891.4 L1700.5 895.5 L1703.2 906.4 L1705.5 920.0 L1707.8 933.7 L1710.0 947.3 L1711.9 961.0 L1713.7 974.6 L1715.5 988.2 L1717.3 999.1 L1718.7 1010.0 L1718.9 1010.0 L1720.2 1023.6 L1722.3 1037.3 L1724.6 1050.9 L1727.3 1064.6 L1730.1 1078.2 L1732.8 1091.9 L1735.5 1102.8 L1739.2 1115.5 L1742.8 1127.3 L1746.4 1137.3 L1751.0 1150.0 L1753.7 1159.1 L1758.2 1168.2 L1763.7 1177.3 L1770.0 1186.4 L1777.3 1195.5 L1786.4 1204.6 L1796.4 1212.8 L1807.3 1220.0 L1819.1 1226.4 L1831.0 1231.4 L1844.6 1236.4 L1858.3 1241.9 L1871.9 1247.3 L1881.0 1251.0 L1890.0 1254.6 L1899.1 1257.3 L1908.2 1260.1 L1917.3 1262.3 L1926.4 1264.6 L1935.5 1266.9 L1944.6 1269.1 L1953.7 1271.4 L1962.8 1273.7 L1971.9 1276.0 L1981.0 1277.8 L1990.0 1279.1 L1999.1 1280.8 L2008.2 1281.9 L2017.3 1282.8 L2026.4 1283.2 L2044.6 1283.0 L2071.9 1282.8 L2090.0 1282.8 L2098.8 1282.8 L2098.9 1282.8 L2098.9 1289.3Z" fill="url(#f-blue)" stroke="none"/>
<path d="M294.9 1289.3 L295.0 1237.0 L297.3 1246.4 L298.6 1254.6 L300.0 1263.7 L302.3 1270.1 L305.0 1274.6 L308.2 1277.3 L312.7 1279.1 L316.4 1279.1 L318.2 1275.5 L319.1 1274.1 L320.5 1275.1 L321.8 1277.3 L324.6 1280.1 L330.9 1281.9 L344.6 1283.0 L362.8 1283.0 L381.0 1282.1 L390.0 1281.0 L399.1 1279.6 L408.2 1278.4 L412.8 1277.8 L417.3 1276.0 L421.9 1271.9 L426.4 1266.9 L431.0 1258.7 L434.6 1249.1 L437.3 1237.3 L439.3 1222.8 L441.0 1204.6 L442.3 1186.4 L443.7 1168.2 L445.1 1154.5 L445.7 1150.0 L446.6 1101.0 L447.3 1064.6 L448.0 1032.7 L448.7 1027.3 L450.0 1024.7 L450.4 1032.7 L451.0 1064.6 L451.6 1101.0 L452.1 1150.0 L453.3 1154.5 L454.2 1168.2 L455.1 1195.5 L456.4 1222.8 L458.3 1241.0 L461.0 1251.9 L465.5 1261.0 L471.9 1266.4 L481.0 1270.1 L490.0 1272.3 L499.1 1275.1 L508.2 1277.1 L517.3 1278.4 L535.5 1280.1 L553.7 1281.0 L571.9 1281.0 L581.0 1281.4 L590.0 1282.1 L599.1 1281.9 L608.2 1281.0 L617.3 1279.1 L626.4 1276.9 L635.5 1274.6 L644.6 1271.9 L653.7 1268.7 L662.8 1264.6 L671.9 1258.2 L679.2 1250.8 L685.5 1241.4 L690.0 1235.5 L694.1 1225.5 L698.2 1212.8 L701.8 1199.1 L704.6 1185.5 L706.8 1171.8 L708.6 1159.1 L709.6 1150.0 L710.9 1137.3 L712.3 1119.1 L713.2 1101.0 L714.1 1082.8 L714.8 1064.6 L715.9 1046.4 L716.8 1028.2 L717.8 1010.0 L720.2 900.0 L722.4 840.0 L723.3 790.0 L724.0 742.0 L725.0 742.0 L726.6 790.0 L728.4 840.0 L730.2 900.0 L732.3 1010.0 L733.2 1028.2 L734.1 1046.4 L735.5 1064.6 L736.9 1082.8 L738.2 1101.0 L739.6 1119.1 L741.4 1137.3 L743.7 1150.0 L746.4 1163.6 L749.1 1172.7 L751.8 1180.0 L758.2 1193.7 L765.5 1204.6 L776.4 1216.4 L790.0 1226.4 L803.7 1232.8 L817.3 1238.2 L826.4 1242.8 L835.5 1247.3 L844.6 1249.6 L853.7 1249.6 L862.8 1248.2 L871.9 1248.2 L881.0 1249.6 L890.0 1252.3 L899.1 1254.6 L908.2 1256.4 L917.3 1257.8 L926.4 1258.7 L944.6 1259.9 L962.8 1260.5 L981.0 1261.1 L999.1 1261.7 L1008.2 1260.8 L1017.3 1261.0 L1035.5 1261.4 L1053.7 1261.9 L1071.9 1262.6 L1081.0 1263.5 L1090.0 1264.8 L1099.1 1266.4 L1108.2 1268.7 L1117.3 1270.5 L1126.4 1271.9 L1132.7 1272.6 L1137.3 1275.5 L1142.8 1278.2 L1146.4 1278.7 L1150.9 1274.6 L1155.5 1263.7 L1158.2 1254.6 L1160.0 1241.0 L1161.9 1231.9 L1163.7 1222.8 L1165.5 1213.7 L1167.3 1206.4 L1169.1 1203.2 L1170.9 1202.3 L1172.8 1203.7 L1175.5 1208.2 L1179.1 1214.6 L1182.8 1220.9 L1186.4 1225.5 L1190.0 1229.1 L1194.6 1232.8 L1199.1 1235.5 L1208.2 1239.1 L1217.3 1241.4 L1226.4 1242.6 L1235.5 1243.2 L1253.7 1243.5 L1271.9 1243.2 L1290.0 1242.8 L1308.2 1241.4 L1326.4 1240.0 L1344.6 1238.7 L1362.8 1236.9 L1381.0 1235.5 L1399.1 1234.1 L1417.3 1233.5 L1435.5 1233.2 L1453.7 1232.6 L1471.9 1230.5 L1490.0 1227.3 L1508.2 1222.7 L1526.4 1217.7 L1544.6 1212.2 L1553.7 1209.8 L1562.8 1206.9 L1581.0 1198.2 L1599.1 1188.7 L1608.2 1182.9 L1617.3 1175.9 L1626.4 1166.8 L1635.5 1155.5 L1636.4 1150.0 L1640.9 1139.1 L1645.5 1128.2 L1650.0 1114.6 L1653.7 1102.8 L1657.3 1090.0 L1660.0 1078.2 L1662.8 1064.6 L1665.5 1050.9 L1668.2 1037.3 L1670.9 1023.6 L1673.7 1010.0 L1673.8 1010.0 L1674.7 999.1 L1676.4 988.2 L1678.7 974.6 L1680.9 961.0 L1683.2 947.3 L1685.5 933.7 L1688.2 920.0 L1690.9 906.4 L1693.7 895.5 L1695.5 891.4 L1696.8 890.2 L1698.4 891.4 L1700.5 895.5 L1703.2 906.4 L1705.5 920.0 L1707.8 933.7 L1710.0 947.3 L1711.9 961.0 L1713.7 974.6 L1715.5 988.2 L1717.3 999.1 L1718.7 1010.0 L1718.9 1010.0 L1720.2 1023.6 L1722.3 1037.3 L1724.6 1050.9 L1727.3 1064.6 L1730.1 1078.2 L1732.8 1091.9 L1735.5 1102.8 L1739.2 1115.5 L1742.8 1127.3 L1746.4 1137.3 L1751.0 1150.0 L1753.7 1159.1 L1758.2 1168.2 L1763.7 1177.3 L1770.0 1186.4 L1777.3 1195.5 L1786.4 1204.6 L1796.4 1212.8 L1807.3 1220.0 L1819.1 1226.4 L1831.0 1231.4 L1844.6 1236.4 L1858.3 1241.9 L1871.9 1247.3 L1881.0 1251.0 L1890.0 1254.6 L1899.1 1257.3 L1908.2 1260.1 L1917.3 1262.3 L1926.4 1264.6 L1935.5 1266.9 L1944.6 1269.1 L1953.7 1271.4 L1962.8 1273.7 L1971.9 1276.0 L1981.0 1277.8 L1990.0 1279.1 L1999.1 1280.8 L2008.2 1281.9 L2017.3 1282.8 L2026.4 1283.2 L2044.6 1283.0 L2071.9 1282.8 L2090.0 1282.8 L2098.8 1282.8 L2098.9 1282.8 L2098.9 1289.3" fill="none" stroke="#1A6FDF" stroke-width="4.15" stroke-linejoin="round" stroke-linecap="butt"/>
<path d="M294.9 1289.3 L295.0 1246.5 L296.4 1263.7 L297.7 1271.0 L300.0 1276.0 L303.6 1279.1 L308.2 1281.0 L313.6 1282.3 L316.8 1283.2 L318.2 1281.0 L319.6 1278.7 L320.9 1279.1 L322.7 1281.0 L326.4 1282.3 L335.5 1283.2 L344.6 1283.7 L353.7 1283.7 L362.8 1283.7 L371.9 1283.2 L381.0 1282.8 L390.0 1281.9 L399.1 1281.4 L408.2 1281.0 L412.8 1280.1 L417.3 1278.2 L421.9 1274.6 L426.4 1269.1 L431.0 1261.0 L434.6 1251.9 L437.3 1241.0 L439.6 1227.3 L441.4 1213.7 L442.8 1200.0 L444.2 1181.8 L445.3 1166.4 L446.3 1154.5 L447.4 1147.0 L448.2 1139.2 L449.0 1147.0 L451.2 1154.5 L451.9 1168.2 L452.8 1186.4 L453.7 1204.6 L454.4 1218.2 L455.3 1230.0 L456.4 1241.0 L458.3 1251.0 L461.9 1259.6 L467.4 1266.0 L473.7 1269.9 L481.0 1272.3 L490.0 1274.1 L499.1 1276.4 L508.2 1278.2 L517.3 1279.1 L526.4 1280.1 L535.5 1280.5 L544.6 1281.0 L553.7 1281.2 L562.8 1281.4 L571.9 1282.1 L581.0 1283.0 L590.0 1283.7 L599.1 1283.9 L608.2 1283.5 L617.3 1282.6 L626.4 1281.0 L635.5 1278.2 L644.6 1275.1 L653.7 1271.0 L662.8 1266.0 L671.9 1259.1 L679.2 1251.9 L685.5 1242.8 L690.0 1237.3 L694.5 1227.3 L699.1 1213.7 L702.7 1200.0 L705.5 1186.4 L707.7 1172.7 L709.6 1159.1 L710.9 1150.0 L712.8 1132.8 L714.1 1119.1 L715.9 1101.0 L717.8 1082.8 L719.6 1064.6 L721.9 1046.4 L723.5 1035.5 L724.6 1030.5 L725.9 1035.5 L727.8 1046.4 L730.0 1064.6 L731.9 1082.8 L733.7 1101.0 L735.5 1119.1 L736.9 1132.8 L738.7 1150.0 L739.1 1159.1 L740.9 1168.2 L743.7 1177.3 L746.4 1186.4 L750.0 1194.6 L753.7 1200.9 L758.2 1208.2 L762.8 1213.7 L768.2 1220.0 L773.7 1226.4 L785.5 1234.6 L799.1 1241.0 L817.3 1247.3 L835.5 1251.9 L853.7 1255.5 L871.9 1257.3 L890.0 1258.0 L908.2 1258.7 L926.4 1259.6 L944.6 1260.2 L962.8 1261.0 L981.0 1262.1 L999.1 1263.1 L1017.3 1263.1 L1035.5 1263.5 L1053.7 1264.4 L1071.9 1265.7 L1090.0 1267.1 L1099.1 1268.7 L1108.2 1271.0 L1117.3 1273.2 L1124.6 1274.1 L1130.9 1273.7 L1137.3 1271.4 L1142.8 1267.3 L1148.2 1260.1 L1153.7 1251.0 L1159.1 1242.8 L1164.6 1236.9 L1170.0 1234.6 L1175.5 1235.5 L1181.0 1237.8 L1190.0 1241.0 L1199.1 1243.2 L1208.2 1244.6 L1217.3 1245.5 L1235.5 1246.4 L1253.7 1246.6 L1271.9 1246.2 L1290.0 1245.5 L1308.2 1244.1 L1326.4 1242.8 L1344.6 1241.4 L1362.8 1240.0 L1381.0 1238.7 L1399.1 1237.8 L1417.3 1236.4 L1435.5 1235.0 L1453.7 1233.2 L1471.9 1230.9 L1490.0 1229.1 L1508.2 1224.6 L1526.4 1219.6 L1544.6 1214.1 L1562.8 1207.8 L1581.0 1199.6 L1599.1 1190.0 L1608.2 1184.6 L1617.3 1177.3 L1626.4 1168.2 L1635.5 1157.3 L1639.1 1150.0 L1646.4 1137.3 L1653.7 1123.7 L1660.9 1111.9 L1667.3 1101.0 L1673.7 1090.0 L1679.1 1081.9 L1684.6 1075.5 L1689.1 1072.3 L1692.8 1071.4 L1696.4 1072.8 L1701.0 1077.3 L1705.5 1084.6 L1710.1 1094.6 L1714.6 1105.5 L1719.1 1116.4 L1723.7 1127.3 L1728.2 1137.3 L1733.7 1150.0 L1737.3 1159.1 L1742.8 1168.2 L1749.1 1177.3 L1756.4 1187.3 L1764.6 1197.3 L1773.7 1206.4 L1783.7 1214.6 L1794.6 1221.9 L1806.4 1228.2 L1817.3 1233.2 L1831.0 1238.7 L1844.6 1243.7 L1858.3 1249.1 L1871.9 1254.6 L1881.0 1258.2 L1890.0 1261.4 L1899.1 1263.7 L1908.2 1266.0 L1917.3 1268.2 L1926.4 1270.1 L1935.5 1271.9 L1944.6 1273.9 L1953.7 1276.0 L1962.8 1277.8 L1971.9 1279.6 L1981.0 1281.0 L1990.0 1282.3 L1999.1 1283.2 L2008.2 1283.7 L2017.3 1283.7 L2026.4 1283.2 L2035.5 1282.3 L2044.6 1281.4 L2053.7 1280.8 L2062.8 1280.2 L2071.9 1279.9 L2090.0 1279.6 L2098.8 1279.7 L2098.9 1279.7 L2098.9 1289.3Z" fill="url(#f-green)" stroke="none"/>
<path d="M294.9 1289.3 L295.0 1246.5 L296.4 1263.7 L297.7 1271.0 L300.0 1276.0 L303.6 1279.1 L308.2 1281.0 L313.6 1282.3 L316.8 1283.2 L318.2 1281.0 L319.6 1278.7 L320.9 1279.1 L322.7 1281.0 L326.4 1282.3 L335.5 1283.2 L344.6 1283.7 L353.7 1283.7 L362.8 1283.7 L371.9 1283.2 L381.0 1282.8 L390.0 1281.9 L399.1 1281.4 L408.2 1281.0 L412.8 1280.1 L417.3 1278.2 L421.9 1274.6 L426.4 1269.1 L431.0 1261.0 L434.6 1251.9 L437.3 1241.0 L439.6 1227.3 L441.4 1213.7 L442.8 1200.0 L444.2 1181.8 L445.3 1166.4 L446.3 1154.5 L447.4 1147.0 L448.2 1139.2 L449.0 1147.0 L451.2 1154.5 L451.9 1168.2 L452.8 1186.4 L453.7 1204.6 L454.4 1218.2 L455.3 1230.0 L456.4 1241.0 L458.3 1251.0 L461.9 1259.6 L467.4 1266.0 L473.7 1269.9 L481.0 1272.3 L490.0 1274.1 L499.1 1276.4 L508.2 1278.2 L517.3 1279.1 L526.4 1280.1 L535.5 1280.5 L544.6 1281.0 L553.7 1281.2 L562.8 1281.4 L571.9 1282.1 L581.0 1283.0 L590.0 1283.7 L599.1 1283.9 L608.2 1283.5 L617.3 1282.6 L626.4 1281.0 L635.5 1278.2 L644.6 1275.1 L653.7 1271.0 L662.8 1266.0 L671.9 1259.1 L679.2 1251.9 L685.5 1242.8 L690.0 1237.3 L694.5 1227.3 L699.1 1213.7 L702.7 1200.0 L705.5 1186.4 L707.7 1172.7 L709.6 1159.1 L710.9 1150.0 L712.8 1132.8 L714.1 1119.1 L715.9 1101.0 L717.8 1082.8 L719.6 1064.6 L721.9 1046.4 L723.5 1035.5 L724.6 1030.5 L725.9 1035.5 L727.8 1046.4 L730.0 1064.6 L731.9 1082.8 L733.7 1101.0 L735.5 1119.1 L736.9 1132.8 L738.7 1150.0 L739.1 1159.1 L740.9 1168.2 L743.7 1177.3 L746.4 1186.4 L750.0 1194.6 L753.7 1200.9 L758.2 1208.2 L762.8 1213.7 L768.2 1220.0 L773.7 1226.4 L785.5 1234.6 L799.1 1241.0 L817.3 1247.3 L835.5 1251.9 L853.7 1255.5 L871.9 1257.3 L890.0 1258.0 L908.2 1258.7 L926.4 1259.6 L944.6 1260.2 L962.8 1261.0 L981.0 1262.1 L999.1 1263.1 L1017.3 1263.1 L1035.5 1263.5 L1053.7 1264.4 L1071.9 1265.7 L1090.0 1267.1 L1099.1 1268.7 L1108.2 1271.0 L1117.3 1273.2 L1124.6 1274.1 L1130.9 1273.7 L1137.3 1271.4 L1142.8 1267.3 L1148.2 1260.1 L1153.7 1251.0 L1159.1 1242.8 L1164.6 1236.9 L1170.0 1234.6 L1175.5 1235.5 L1181.0 1237.8 L1190.0 1241.0 L1199.1 1243.2 L1208.2 1244.6 L1217.3 1245.5 L1235.5 1246.4 L1253.7 1246.6 L1271.9 1246.2 L1290.0 1245.5 L1308.2 1244.1 L1326.4 1242.8 L1344.6 1241.4 L1362.8 1240.0 L1381.0 1238.7 L1399.1 1237.8 L1417.3 1236.4 L1435.5 1235.0 L1453.7 1233.2 L1471.9 1230.9 L1490.0 1229.1 L1508.2 1224.6 L1526.4 1219.6 L1544.6 1214.1 L1562.8 1207.8 L1581.0 1199.6 L1599.1 1190.0 L1608.2 1184.6 L1617.3 1177.3 L1626.4 1168.2 L1635.5 1157.3 L1639.1 1150.0 L1646.4 1137.3 L1653.7 1123.7 L1660.9 1111.9 L1667.3 1101.0 L1673.7 1090.0 L1679.1 1081.9 L1684.6 1075.5 L1689.1 1072.3 L1692.8 1071.4 L1696.4 1072.8 L1701.0 1077.3 L1705.5 1084.6 L1710.1 1094.6 L1714.6 1105.5 L1719.1 1116.4 L1723.7 1127.3 L1728.2 1137.3 L1733.7 1150.0 L1737.3 1159.1 L1742.8 1168.2 L1749.1 1177.3 L1756.4 1187.3 L1764.6 1197.3 L1773.7 1206.4 L1783.7 1214.6 L1794.6 1221.9 L1806.4 1228.2 L1817.3 1233.2 L1831.0 1238.7 L1844.6 1243.7 L1858.3 1249.1 L1871.9 1254.6 L1881.0 1258.2 L1890.0 1261.4 L1899.1 1263.7 L1908.2 1266.0 L1917.3 1268.2 L1926.4 1270.1 L1935.5 1271.9 L1944.6 1273.9 L1953.7 1276.0 L1962.8 1277.8 L1971.9 1279.6 L1981.0 1281.0 L1990.0 1282.3 L1999.1 1283.2 L2008.2 1283.7 L2017.3 1283.7 L2026.4 1283.2 L2035.5 1282.3 L2044.6 1281.4 L2053.7 1280.8 L2062.8 1280.2 L2071.9 1279.9 L2090.0 1279.6 L2098.8 1279.7 L2098.9 1279.7 L2098.9 1289.3" fill="none" stroke="#37AD6B" stroke-width="4.15" stroke-linejoin="round" stroke-linecap="butt"/>
</g>
<g font-size="71">
<text transform="translate(294.9 1377.3) scale(0.958 1)" text-anchor="middle">0</text>
<text transform="translate(520.3 1377.3) scale(0.958 1)" text-anchor="middle">200</text>
<text transform="translate(745.8 1377.3) scale(0.958 1)" text-anchor="middle">400</text>
<text transform="translate(971.3 1377.3) scale(0.958 1)" text-anchor="middle">600</text>
<text transform="translate(1196.8 1377.3) scale(0.958 1)" text-anchor="middle">800</text>
<text transform="translate(1422.3 1377.3) scale(0.958 1)" text-anchor="middle">1000</text>
<text transform="translate(1647.8 1377.3) scale(0.958 1)" text-anchor="middle">1200</text>
<text transform="translate(1873.3 1377.3) scale(0.958 1)" text-anchor="middle">1400</text>
<text transform="translate(2098.8 1377.3) scale(0.958 1)" text-anchor="middle">1600</text>
<text transform="translate(255.3 1305.4) scale(0.958 1)" text-anchor="end">0</text>
<text transform="translate(255.3 1137.1) scale(0.958 1)" text-anchor="end">200</text>
<text transform="translate(255.3 968.7) scale(0.958 1)" text-anchor="end">400</text>
<text transform="translate(255.3 800.3) scale(0.958 1)" text-anchor="end">600</text>
<text transform="translate(255.3 632.0) scale(0.958 1)" text-anchor="end">800</text>
<text transform="translate(255.3 463.6) scale(0.958 1)" text-anchor="end">1000</text>
<text transform="translate(255.3 295.2) scale(0.958 1)" text-anchor="end">1200</text>
<text transform="translate(255.3 126.9) scale(0.958 1)" text-anchor="end">1400</text>
</g>
<text x="1196.2" y="1500.8" font-size="80.5" text-anchor="middle">Frequency(f)/Hz</text>
<text transform="translate(88.3 654.0) rotate(-90)" font-size="80.5" text-anchor="middle">Amplitude/(m/s<tspan font-size="56" dy="-32.5">2</tspan><tspan dy="32.5">/N)</tspan></text>
<rect x="996" y="107.7" width="137.4" height="66.4" fill="url(#f-gray)" stroke="url(#s-gray)" stroke-width="3.4"/>
<text transform="translate(1150.8 160.8) scale(0.97 1)" font-size="64">Specimen 1</text>
<rect x="996" y="184.6" width="137.4" height="67.5" fill="url(#f-red)" stroke="url(#s-red)" stroke-width="3.4"/>
<text transform="translate(1150.8 237.7) scale(0.97 1)" font-size="64">Specimen 2</text>
<rect x="996" y="262.6" width="137.4" height="66.4" fill="url(#f-blue)" stroke="url(#s-blue)" stroke-width="3.4"/>
<text transform="translate(1150.8 315.0) scale(0.97 1)" font-size="64">Specimen 3</text>
<rect x="996" y="339.5" width="137.4" height="66.8" fill="url(#f-green)" stroke="url(#s-green)" stroke-width="3.4"/>
<text transform="translate(1150.8 391.8) scale(0.97 1)" font-size="64">Specimen 4</text>
</svg></body></html>
